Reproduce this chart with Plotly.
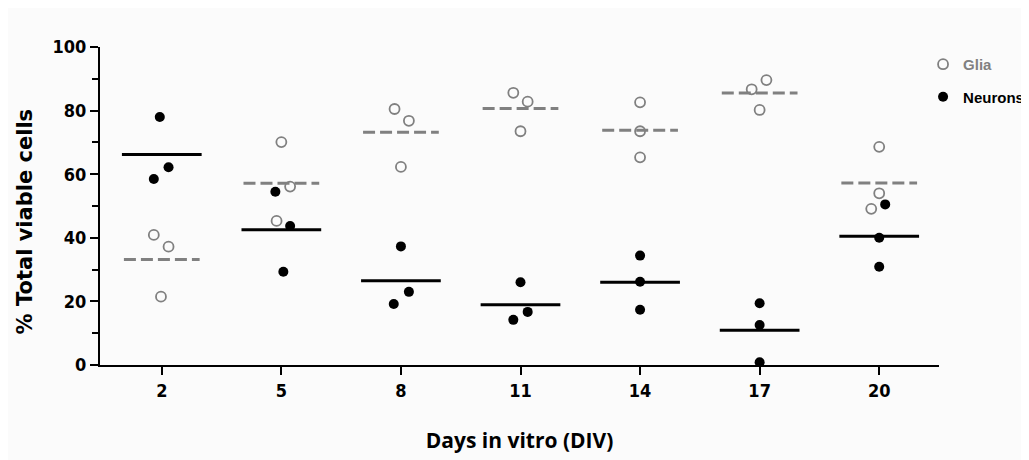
import plotly.graph_objects as go

days = [2, 5, 8, 11, 14, 17, 20]
glia = [
    [40.9, 37.2, 21.5],
    [70.1, 56.1, 45.3],
    [80.5, 76.8, 62.3],
    [85.6, 82.8, 73.5],
    [82.6, 73.5, 65.3],
    [86.7, 89.6, 80.2],
    [68.6, 54.0, 49.1],
]
neurons = [
    [78.0, 62.2, 58.5],
    [54.5, 43.7, 29.3],
    [37.3, 23.0, 19.2],
    [26.0, 14.2, 16.7],
    [34.4, 26.2, 17.4],
    [19.4, 12.6, 0.85],
    [50.5, 40.0, 30.9],
]
# horizontal jitter (days) for each point, style only
glia_jit = [
    [-0.2, 0.17, -0.02],
    [0.0, 0.22, -0.12],
    [-0.16, 0.2, 0.0],
    [-0.18, 0.18, 0.0],
    [0.0, 0.0, 0.0],
    [-0.2, 0.17, 0.0],
    [0.0, 0.0, -0.2],
]
neu_jit = [
    [-0.05, 0.17, -0.2],
    [-0.15, 0.22, 0.05],
    [0.0, 0.2, -0.18],
    [0.0, -0.18, 0.18],
    [0.0, 0.0, 0.0],
    [0.0, 0.0, 0.0],
    [0.15, 0.0, 0.0],
]

GRAY = "#808080"
fig = go.Figure()

def points(vals, jit):
    xs, ys = [], []
    for d, vs, js in zip(days, vals, jit):
        for v, j in zip(vs, js):
            xs.append(d + j)
            ys.append(v)
    return xs, ys

def mean_lines(vals, half):
    xs, ys = [], []
    for d, vs in zip(days, vals):
        m = sum(vs) / len(vs)
        xs += [d - half, d + half, None]
        ys += [m, m, None]
    return xs, ys

mx, my = mean_lines(glia, 0.95)
fig.add_trace(go.Scatter(x=mx, y=my, mode="lines", showlegend=False, hoverinfo="skip",
                         line=dict(color=GRAY, width=3, dash="12px,5px")))
mx, my = mean_lines(neurons, 1.0)
fig.add_trace(go.Scatter(x=mx, y=my, mode="lines", showlegend=False, hoverinfo="skip",
                         line=dict(color="black", width=3)))

gx, gy = points(glia, glia_jit)
fig.add_trace(go.Scatter(x=gx, y=gy, mode="markers",
                         name="<span style='color:#808080'><b>Glia</b></span>", legendgroup="g",
                         marker=dict(symbol="circle-open", size=10, color=GRAY,
                                     line=dict(width=1.8, color=GRAY))))
nx, ny = points(neurons, neu_jit)
fig.add_trace(go.Scatter(x=nx, y=ny, mode="markers", name="<b>Neurons</b>", legendgroup="n",
                         marker=dict(symbol="circle", size=10, color="black")))

tickfont = dict(family="DejaVu Sans Condensed, Liberation Sans Narrow, Liberation Sans", size=18, color="black")

fig.update_layout(
    width=1029, height=460,
    margin=dict(l=92, r=98, t=39, b=103, autoexpand=False),
    paper_bgcolor="#fbfbfb", plot_bgcolor="#fbfbfb",
    font=dict(family="Liberation Sans, Arial", color="black"),
    legend=dict(x=0.981, y=0.997, xanchor="left", yanchor="top",
                traceorder="grouped", tracegroupgap=10,
                font=dict(size=15, family="Liberation Sans, Arial"),
                bgcolor="rgba(0,0,0,0)"),
    xaxis=dict(range=[0.45, 21.5], tickmode="array", tickvals=days,
               ticktext=["<b>%d</b>" % d for d in days],
               showgrid=False, zeroline=False, showline=True, linecolor="black", linewidth=2,
               ticks="outside", ticklen=8, tickwidth=2, tickcolor="black", tickfont=tickfont,
               title=dict(text="<b>Days in vitro (DIV)</b>", standoff=34,
                          font=dict(size=21, family="Open Sans, Liberation Sans", color="black"))),
    yaxis=dict(range=[0, 100], tickmode="array", tickvals=[0, 20, 40, 60, 80, 100],
               ticktext=["<b>%d</b>" % v for v in [0, 20, 40, 60, 80, 100]],
               showgrid=False, zeroline=False, showline=True, linecolor="black", linewidth=2,
               ticks="outside", ticklen=8, tickwidth=2, tickcolor="black", tickfont=tickfont,
               minor=dict(dtick=10, ticks="outside", ticklen=6, tickwidth=2, tickcolor="black", showgrid=False)),
    annotations=[dict(text="<b>% Total viable cells</b>", textangle=-90, showarrow=False,
                      xref="paper", yref="paper", x=-0.09, y=0.45, xanchor="center", yanchor="middle",
                      font=dict(size=21, family="DejaVu Sans, Liberation Sans", color="black"))],
)

fig.write_html("out.html")
